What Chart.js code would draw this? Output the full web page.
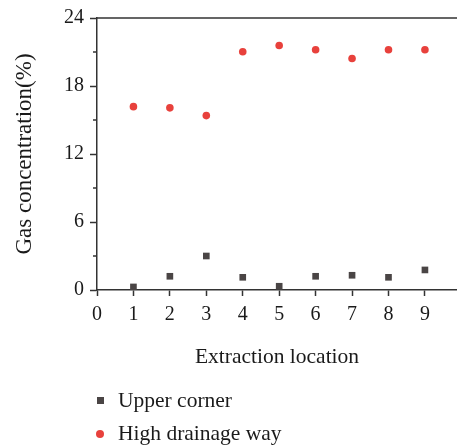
<!DOCTYPE html>
<html>
<head>
<meta charset="utf-8">
<script src="https://cdn.jsdelivr.net/npm/chart.js@4/dist/chart.umd.min.js"></script>
<style>
  body { margin: 0; background: #fff; overflow: hidden; }
  #wrap { position: relative; width: 457px; height: 447px; }
  #legend { position: absolute; left: 92px; top: 384px; font-family: "Liberation Serif", serif; font-size: 21.5px; color: #1a1a1a; }
  #legend .item { display: flex; align-items: center; height: 33px; }
  #legend .mark { width: 16px; display: flex; justify-content: center; margin-right: 10px; }
</style>
</head>
<body>
<div id="wrap">
  <canvas id="gasChart"></canvas>
  <div id="legend"></div>
</div>
<script>
const locations = [1, 2, 3, 4, 5, 6, 7, 8, 9];
const upperCorner = [0.27, 1.21, 3.0, 1.12, 0.33, 1.21, 1.30, 1.12, 1.77];
const highDrainage = [16.18, 16.07, 15.39, 21.02, 21.58, 21.2, 20.43, 21.2, 21.2];
const yTicks = [0, 6, 12, 18, 24];

const axisColor = "#333";
const serif = "'Liberation Serif', 'Times New Roman', serif";

function toPoints(values) {
  return locations.map((x, i) => ({ x: x, y: values[i] }));
}

// short ticks halfway between the labelled y ticks, plus the frame line on top
const frameAndMinor = {
  id: "frameAndMinor",
  afterDraw(chart) {
    const { ctx, chartArea, scales } = chart;
    ctx.save();
    ctx.strokeStyle = axisColor;
    ctx.lineWidth = 1.5;
    ctx.beginPath();
    ctx.moveTo(chartArea.left - 0.75, chartArea.top);
    ctx.lineTo(chartArea.right, chartArea.top);
    for (let i = 0; i < yTicks.length - 1; i++) {
      const py = scales.y.getPixelForValue((yTicks[i] + yTicks[i + 1]) / 2);
      ctx.moveTo(chartArea.left - 4, py);
      ctx.lineTo(chartArea.left, py);
    }
    ctx.stroke();
    ctx.restore();
  }
};

const chart = new Chart(document.getElementById("gasChart"), {
  type: "scatter",
  data: {
    datasets: [
      {
        label: "Upper corner",
        data: toPoints(upperCorner),
        pointStyle: "rect",
        pointRadius: 4.7,
        pointHoverRadius: 4.7,
        backgroundColor: "#4a4545",
        borderColor: "#4a4545",
        borderWidth: 0
      },
      {
        label: "High drainage way",
        data: toPoints(highDrainage),
        pointStyle: "circle",
        pointRadius: 3.8,
        pointHoverRadius: 3.8,
        backgroundColor: "#e8413c",
        borderColor: "#e8413c",
        borderWidth: 0
      }
    ]
  },
  options: {
    responsive: true,
    maintainAspectRatio: false,
    animation: false,
    layout: { autoPadding: false, padding: { top: 18, right: 0, bottom: 77, left: 0 } },
    plugins: {
      legend: { display: false },
      tooltip: { enabled: false }
    },
    scales: {
      x: {
        type: "linear",
        min: 0,
        max: 9.88,
        afterBuildTicks(scale) {
          scale.ticks = [0].concat(locations).map(v => ({ value: v }));
        },
        afterFit(scale) {
          scale.height = 80;
          scale.paddingRight = 0;
        },
        grid: { drawOnChartArea: false, tickLength: 6, tickWidth: 1.5, tickColor: axisColor },
        border: { color: axisColor, width: 1.5 },
        ticks: { color: "#1a1a1a", font: { family: serif, size: 20 }, padding: 7, maxRotation: 0 },
        title: {
          display: true,
          text: "Extraction location",
          color: "#1a1a1a",
          font: { family: serif, size: 21.5 },
          padding: { top: 0, bottom: 0 }
        }
      },
      y: {
        min: 0,
        max: 24,
        afterBuildTicks(scale) {
          scale.ticks = yTicks.map(v => ({ value: v }));
        },
        afterFit(scale) { scale.width = 97; },
        grid: { drawOnChartArea: false, tickLength: 7, tickWidth: 1.5, tickColor: axisColor },
        border: { color: axisColor, width: 1.5 },
        ticks: { color: "#1a1a1a", font: { family: serif, size: 20 }, padding: 6 },
        title: {
          display: true,
          text: "Gas concentration(%)",
          color: "#1a1a1a",
          font: { family: serif, size: 23 },
          padding: { top: 11, bottom: 0 }
        }
      }
    }
  },
  plugins: [frameAndMinor]
});

// legend stacked below the plot, one entry per dataset
const legend = document.getElementById("legend");
chart.data.datasets.forEach(ds => {
  const item = document.createElement("div");
  item.className = "item";
  const mark = document.createElement("span");
  mark.className = "mark";
  const shape = document.createElement("span");
  const size = ds.pointStyle === "rect" ? 7 : 8;
  shape.style.cssText = "display:inline-block;width:" + size + "px;height:" + size + "px;background:" +
    ds.backgroundColor + (ds.pointStyle === "circle" ? ";border-radius:50%" : "");
  mark.appendChild(shape);
  const text = document.createElement("span");
  text.textContent = ds.label;
  item.appendChild(mark);
  item.appendChild(text);
  legend.appendChild(item);
});
</script>
</body>
</html>
